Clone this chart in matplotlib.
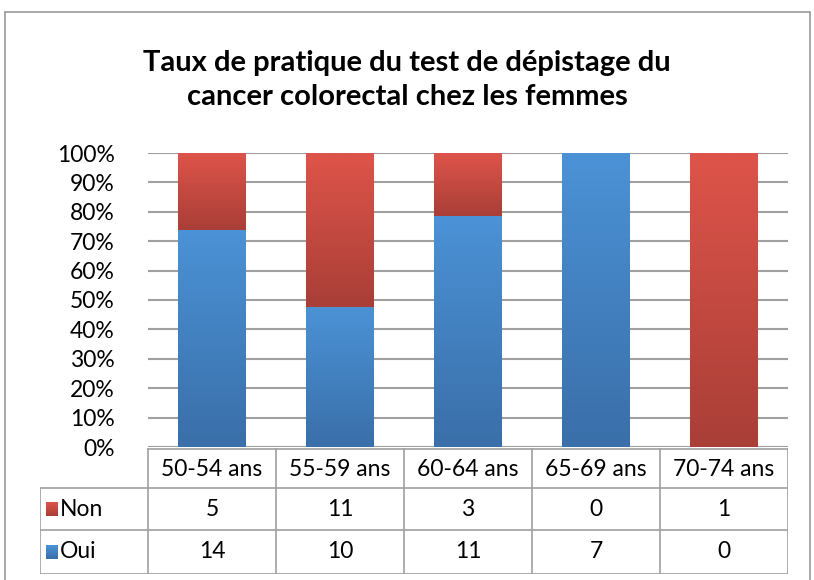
import matplotlib
matplotlib.use("Agg")
import matplotlib.pyplot as plt
import numpy as np
from matplotlib.colors import LinearSegmentedColormap
from matplotlib.patches import Rectangle

plt.rcParams['font.family'] = ['Lato', 'DejaVu Sans']

categories = ['50-54 ans', '55-59 ans', '60-64 ans', '65-69 ans', '70-74 ans']
non = [5, 11, 3, 0, 1]
oui = [14, 10, 11, 7, 0]
title = 'Taux de pratique du test de dépistage du\ncancer colorectal chez les femmes'

blue_top, blue_bot = '#4b92d6', '#3a6fa9'
red_top, red_bot = '#de544a', '#a93f37'

W, H = 814, 580
fs = 16.5
fig = plt.figure(figsize=(W / 100, H / 100), dpi=100)


def fx(px):
    return px / W


def fy(py):
    return 1 - py / H


# outer chart border
fig.patches.append(Rectangle((fx(5), fy(590)), fx(805), (590 - 12) / H,
                             transform=fig.transFigure, fill=False,
                             edgecolor='#9a9a9a', linewidth=1.2))

fig.text(0.5, fy(80), title, ha='center', va='center', fontsize=21,
         fontweight='bold', linespacing=1.38)

ax = fig.add_axes([fx(148), fy(447), fx(640), (447 - 153) / H])

x = np.arange(len(categories))
tot = np.array(non) + np.array(oui)
oui_pct = np.array(oui) / tot * 100
non_pct = np.array(non) / tot * 100


def grad_fill(bar, top, bot):
    cmap = LinearSegmentedColormap.from_list('g', [bot, top])
    x0, y0 = bar.get_x(), bar.get_y()
    w, h = bar.get_width(), bar.get_height()
    if h <= 0:
        return
    im = ax.imshow(np.linspace(0, 1, 100).reshape(-1, 1), cmap=cmap,
                   aspect='auto', origin='lower',
                   extent=[x0, x0 + w, y0, y0 + h], zorder=3)
    im.set_clip_path(bar)


width = 0.53
b1 = ax.bar(x, oui_pct, width, color='none', zorder=3)
b2 = ax.bar(x, non_pct, width, bottom=oui_pct, color='none', zorder=3)
for b in b1:
    grad_fill(b, blue_top, blue_bot)
for b in b2:
    grad_fill(b, red_top, red_bot)

ax.set_xlim(-0.5, len(categories) - 0.5)
ax.set_ylim(0, 100)
ax.set_yticks(np.arange(0, 101, 10))
ax.set_yticklabels([f'{v}%' for v in range(0, 101, 10)], fontsize=fs)
ax.tick_params(axis='y', length=0, pad=24)
ax.set_xticks([])
ax.grid(axis='y', color='#a0a0a0', linewidth=1.5, zorder=0)
ax.set_axisbelow(True)
for s in ax.spines.values():
    s.set_visible(False)

# data table below the plot
tab = fig.add_axes([fx(40), fy(574), fx(748), (574 - 447) / H])
tab.axis('off')
lc = '#a0a0a0'
col_w = 128
rows = [449, 488, 530, 574]
n = len(categories)
tab.plot([148, 788], [449, 449], color=lc, lw=1.2)
for i in range(n + 1):
    xc = 148 + i * col_w
    tab.plot([xc, xc], [449, 574], color=lc, lw=1.2)
tab.plot([40, 40], [488, 574], color=lc, lw=1.2)
for yy in rows[1:]:
    tab.plot([40, 788], [yy, yy], color=lc, lw=1.2)
for i, c in enumerate(categories):
    tab.text(148 + (i + 0.5) * col_w, 469, c, ha='center', va='center', fontsize=fs)
for r, (name, vals, top, bot) in enumerate([('Non', non, red_top, red_bot),
                                           ('Oui', oui, blue_top, blue_bot)]):
    yc = (rows[r + 1] + rows[r + 2]) / 2
    cmap = LinearSegmentedColormap.from_list('g', [top, bot])
    tab.imshow(np.linspace(0, 1, 20).reshape(-1, 1), cmap=cmap, aspect='auto',
               extent=[46, 58, yc + 7, yc - 7])
    tab.text(60, yc, name, ha='left', va='center', fontsize=fs)
    for i, v in enumerate(vals):
        tab.text(148 + (i + 0.5) * col_w, yc, str(v), ha='center', va='center', fontsize=fs)
tab.set_xlim(40, 788)
tab.set_ylim(574, 447)

fig.savefig('out.png', dpi=100)
